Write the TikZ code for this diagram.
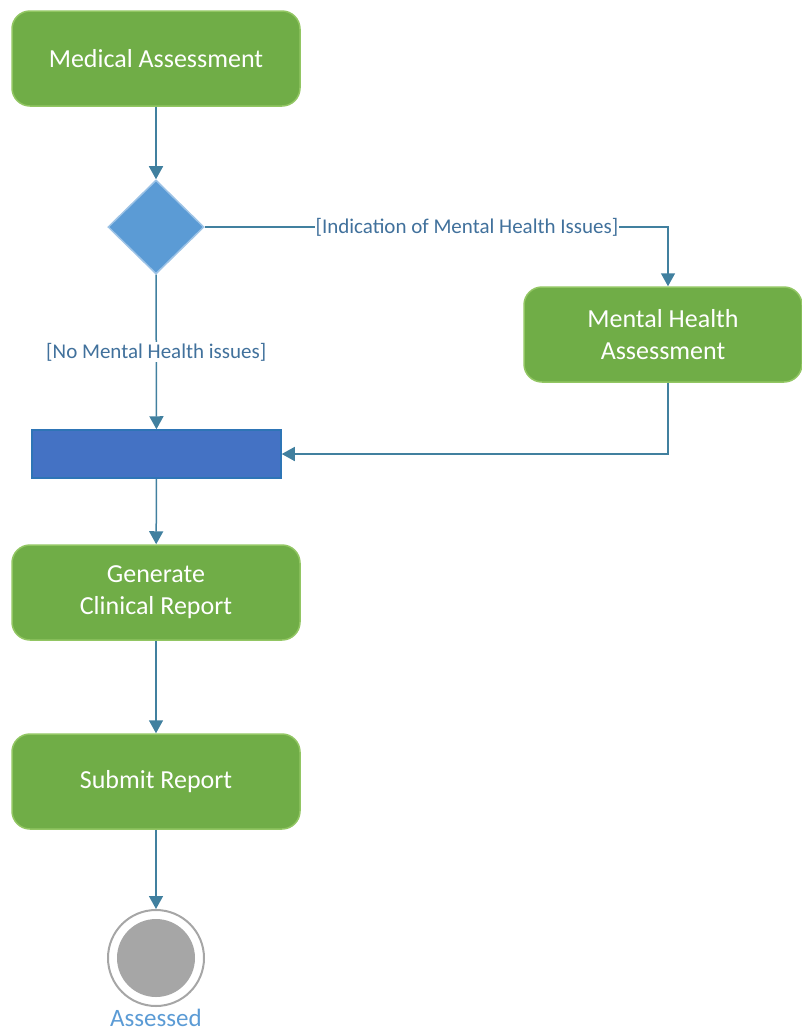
\documentclass[tikz,border=0pt]{standalone}
\usepackage{fontspec}
\setmainfont{Carlito}
\usetikzlibrary{arrows.meta,shapes.geometric}
\definecolor{actgreen}{HTML}{70AD47}
\definecolor{actborder}{HTML}{92C663}
\definecolor{flowblue}{HTML}{41809F}
\definecolor{decfill}{HTML}{5B9BD5}
\definecolor{decborder}{HTML}{9DC3E6}
\definecolor{barfill}{HTML}{4472C4}
\definecolor{barborder}{HTML}{2E75B6}
\definecolor{endgray}{HTML}{A6A6A6}
\definecolor{guardtext}{HTML}{41719C}
\definecolor{endtext}{HTML}{5B9BD5}

\begin{document}
\begin{tikzpicture}[x=1pt,y=-1pt,
	activity/.style={draw=actborder,line width=1.5pt,fill=actgreen,rounded corners=18pt,minimum width=288pt,minimum height=95pt,text=white,align=center,font=\fontsize{26}{32}\selectfont},
	flow/.style={draw=flowblue,line width=1.5pt,-{Triangle[length=13pt,width=14pt]}},
	guard/.style={text=guardtext,fill=white,inner sep=1pt,font=\fontsize{21}{25}\selectfont}]
	
	\useasboundingbox (0,0) rectangle (802,1034);
	
	% start activity
	\node[activity] (main1) at (156,58.5) {Medical Assessment};
	
	% decision
	\node[diamond,draw=decborder,line width=1.5pt,fill=decfill,minimum width=96pt,minimum height=94pt,inner sep=0pt] (decide) at (156,227) {};
	
	% mental health branch
	\node[activity,minimum width=278pt] (mental) at (663,334.5) {Mental Health\\Assessment};
	
	% join bar
	\node[draw=barborder,line width=1.5pt,fill=barfill,minimum width=249pt,minimum height=48pt] (join) at (156.5,454) {};
	
	% report
	\node[activity] (main2) at (156,592.5) {Generate\\Clinical Report};
	\node[activity] (main3) at (156,781.5) {Submit Report};
	
	% final state
	\node[circle,draw=endgray,line width=2pt,minimum size=96pt,inner sep=0pt] (final) at (156,958) {};
	\node[circle,fill=endgray,minimum size=78pt,inner sep=0pt] (final1) at (final.center) {};
	\node[text=endtext,font=\fontsize{25}{29}\selectfont] (finallabel) at (156,1018) {Assessed};
	
	\draw[flow] (main1) -- (decide);
	\draw[flow] (decide.east) -| ([xshift=5pt]mental.north) node[guard,pos=0.283] {[Indication of Mental Health Issues]};
	\draw[flow] (decide) -- (join) node[guard,midway] {[No Mental Health issues]};
	\draw[flow] ([xshift=5pt]mental.south) |- (join.east);
	
	\draw[flow] (join) -- (main2);
	\draw[flow] (main2) -- (main3);
	\draw[flow] (main3) -- (final);
	
\end{tikzpicture}
\end{document}
